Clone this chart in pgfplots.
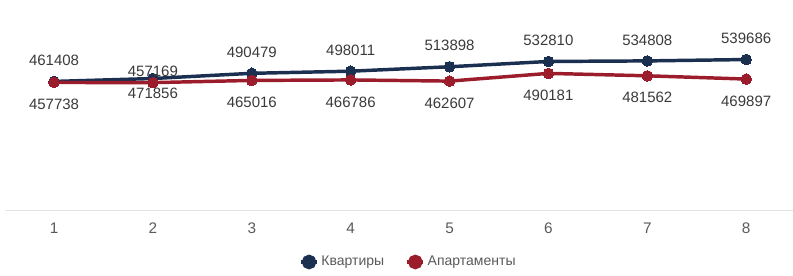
\documentclass[border=0pt]{standalone}
\usepackage{pgfplots}
\pgfplotsset{compat=1.18}
\usepackage{pgfplotstable}
\usepackage{fontspec}
\setmainfont{Liberation Sans}
\definecolor{navy}{HTML}{1B3050}
\definecolor{wine}{HTML}{9B1D2C}
\definecolor{lbl}{HTML}{3A3A3A}
\definecolor{tick}{HTML}{5A5A5A}
\definecolor{base}{HTML}{E3E3E3}
\pgfplotstableread{
x y lbl dy
1 461408 461408 15.75
2 471856 471856 -10.8
3 490479 490479 15.75
4 498011 498011 15.75
5 513898 513898 15.75
6 532810 532810 15.75
7 534808 534808 15.75
8 539686 539686 15.75
}\flats
\pgfplotstableread{
x y lbl dy
1 457738 457738 -16.5
2 457169 457169 8.5
3 465016 465016 -16.5
4 466786 466786 -16.5
5 462607 462607 -16.5
6 490181 490181 -16.5
7 481562 481562 -16.5
8 469897 469897 -16.5
}\apts
\begin{document}
\begin{tikzpicture}
\begin{axis}[
  at={(0,0)}, anchor=south west,
  scale only axis,
  width=593.25pt, height=157.9pt,
  xmin=0.5, xmax=8.5, ymin=0, ymax=752500,
  axis line style={draw=none},
  axis x line*=bottom,
  axis y line=none,
  xtick={1,...,8},
  xticklabels={1,2,3,4,5,6,7,8},
  major tick length=0pt,
  xticklabel style={font=\fontsize{11.5}{13}\selectfont, text=tick, yshift=-5.5pt},
  clip=false,
  legend columns=2,
  legend style={at={(0.511,0)}, anchor=center, yshift=-38.6pt, draw=none,
    font=\fontsize{10.5}{12}\selectfont, text=tick,
    /tikz/every even column/.append style={column sep=14pt}},
  legend image code/.code={
    \draw[#1, line width=2.6pt] (0pt,0pt) -- (12pt,0pt);
    \fill[#1] (6pt,0pt) circle (4.2pt);
  },
  nodes near coords,
  point meta=explicit symbolic,
  visualization depends on={\thisrow{dy} \as \dy},
  every node near coord/.append style={anchor=center, yshift=\dy pt, font=\fontsize{11.25}{13}\selectfont, text=lbl},
]
\draw[base, line width=1.2pt] (axis cs:0.5,0) -- (axis cs:8.5,0);
\addplot[navy, line width=2.6pt, mark=*, mark size=4pt, mark options={fill=navy, draw=navy, line width=0pt}] table[x=x, y=y, meta=lbl] {\flats};
\addlegendentry{Квартиры}
\addplot[wine, line width=2.6pt, mark=*, mark size=4pt, mark options={fill=wine, draw=wine, line width=0pt}] table[x=x, y=y, meta=lbl] {\apts};
\addlegendentry{Апартаменты}
\end{axis}
\pgfresetboundingbox
\path (-3.45pt,-48.4pt) rectangle (591.3pt,157.9pt);
\end{tikzpicture}
\end{document}
